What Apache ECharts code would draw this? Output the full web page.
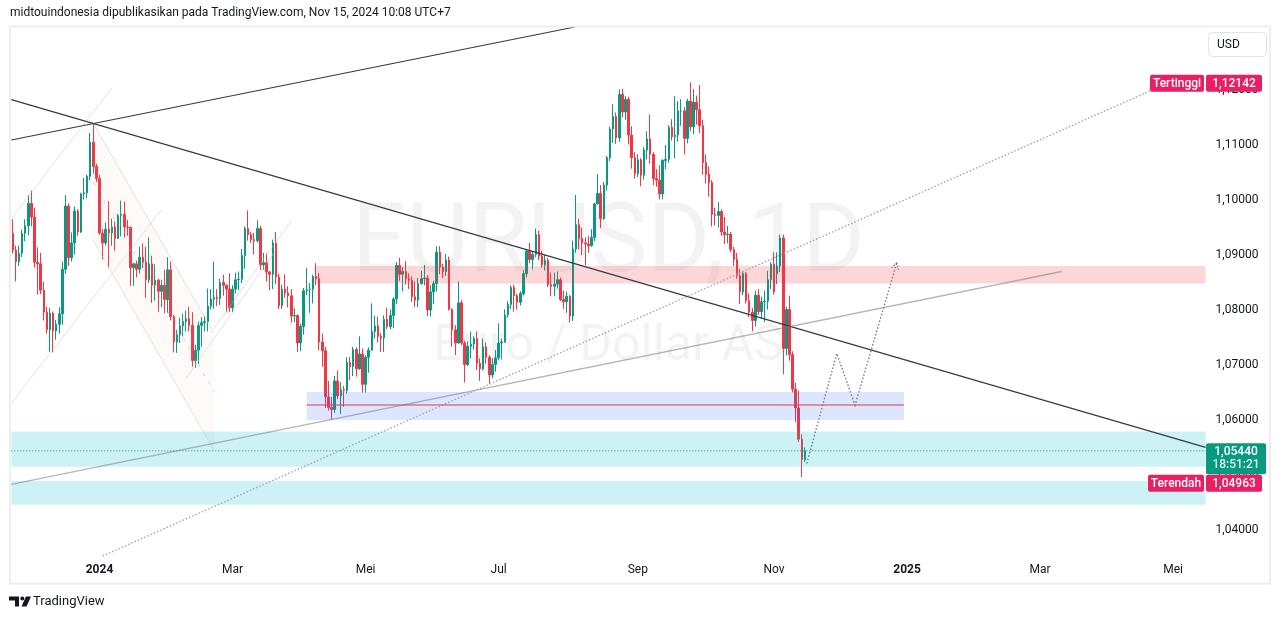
<!DOCTYPE html>
<html><head><meta charset="utf-8">
<script src="https://cdn.jsdelivr.net/npm/echarts@6/dist/echarts.min.js"></script>
<style>html,body{margin:0;padding:0;background:#fff;}#c{width:1281px;height:619px;}</style>
</head><body><div id="c"></div>
<script>
// ---------- categories (trading days) ----------
const firstDate = '2023-11-21';
const skipDates = ['2023-12-25', '2024-01-01'];
const barCount = 386;

// ---------- tick labels ----------
const tickDates  = ['2024-01-02','2024-03-01','2024-05-01','2024-07-01','2024-09-02','2024-11-01','2025-01-01','2025-03-03','2025-05-01'];
const tickLabels = ['2024','Mar','Mei','Jul','Sep','Nov','2025','Mar','Mei'];

// ---------- price range ----------
const yMin = 1.035273, yMax = 1.131455;
const lastPrice = 1.0544, highPrice = 1.12142, lowPrice = 1.04963;
const countdown = '18:51:21';

// ---------- EURUSD daily [open, high, low, close] ----------
const nov2023 = [
[1.0939,1.0965,1.0903,1.0909],[1.0909,1.0917,1.0852,1.0888],[1.0888,1.0917,1.0880,1.0903],[1.0903,1.0946,1.0896,1.0939],
[1.0939,1.0965,1.0925,1.0953],[1.0953,1.1009,1.0936,1.0994],[1.0994,1.1017,1.0952,1.0969],[1.0969,1.0986,1.0877,1.0887]];
const dec2023 = [
[1.0887,1.0914,1.0828,1.0884],[1.0884,1.0904,1.0829,1.0836],[1.0836,1.0851,1.0781,1.0796],[1.0796,1.0806,1.0757,1.0764],
[1.0764,1.0804,1.0724,1.0794],[1.0794,1.0797,1.0723,1.0762],[1.0762,1.0782,1.0746,1.0774],[1.0774,1.0805,1.0757,1.0793],
[1.0793,1.0888,1.0773,1.0874],[1.0874,1.1009,1.0866,1.0989],[1.0989,1.0994,1.0880,1.0895],[1.0895,1.0941,1.0888,1.0922],
[1.0922,1.0988,1.0901,1.0980],[1.0980,1.0983,1.0935,1.0942],[1.0942,1.1013,1.0940,1.1011],[1.1011,1.1040,1.1001,1.1013],
[1.1013,1.1046,1.1003,1.1043],[1.1043,1.1122,1.1036,1.1105],[1.1105,1.1139,1.1048,1.1061],[1.1061,1.1066,1.1033,1.1039]];
const jan2024 = [
[1.1039,1.1046,1.0937,1.0940],[1.0940,1.0947,1.0892,1.0922],[1.0922,1.0959,1.0917,1.0947],[1.0947,1.0998,1.0877,1.0940],
[1.0940,1.0966,1.0917,1.0951],[1.0951,1.0961,1.0908,1.0930],[1.0930,1.0975,1.0929,1.0972],[1.0972,1.0999,1.0934,1.0974],
[1.0974,1.0997,1.0932,1.0951],[1.0951,1.0964,1.0935,1.0950],[1.0950,1.0952,1.0844,1.0877],[1.0877,1.0886,1.0844,1.0884],
[1.0884,1.0890,1.0859,1.0874],[1.0874,1.0915,1.0866,1.0896],[1.0896,1.0921,1.0876,1.0887],[1.0887,1.0915,1.0822,1.0855],
[1.0855,1.0932,1.0849,1.0884],[1.0884,1.0899,1.0813,1.0845],[1.0845,1.0883,1.0817,1.0854],[1.0854,1.0857,1.0797,1.0834],
[1.0834,1.0855,1.0805,1.0845],[1.0845,1.0873,1.0794,1.0819]];
const feb2024 = [
[1.0819,1.0896,1.0795,1.0873],[1.0873,1.0888,1.0781,1.0788],[1.0788,1.0791,1.0723,1.0742],[1.0742,1.0764,1.0722,1.0755],
[1.0755,1.0786,1.0740,1.0771],[1.0771,1.0793,1.0752,1.0779],[1.0779,1.0799,1.0761,1.0784],[1.0784,1.0806,1.0761,1.0772],
[1.0772,1.0796,1.0697,1.0708],[1.0708,1.0737,1.0695,1.0727],[1.0727,1.0779,1.0702,1.0772],[1.0772,1.0787,1.0733,1.0777],
[1.0777,1.0789,1.0761,1.0779],[1.0779,1.0839,1.0761,1.0807],[1.0807,1.0838,1.0801,1.0820],[1.0820,1.0888,1.0802,1.0823],
[1.0823,1.0838,1.0807,1.0821],[1.0821,1.0857,1.0809,1.0850],[1.0850,1.0864,1.0826,1.0845],[1.0845,1.0846,1.0796,1.0838],
[1.0838,1.0867,1.0796,1.0804]];
const mar2024 = [
[1.0804,1.0845,1.0796,1.0838],[1.0838,1.0868,1.0830,1.0855],[1.0855,1.0870,1.0836,1.0856],[1.0856,1.0911,1.0849,1.0899],
[1.0899,1.0952,1.0875,1.0948],[1.0948,1.0981,1.0926,1.0937],[1.0937,1.0942,1.0922,1.0928],[1.0928,1.0940,1.0901,1.0926],
[1.0926,1.0963,1.0923,1.0948],[1.0948,1.0953,1.0873,1.0882],[1.0882,1.0904,1.0873,1.0886],[1.0886,1.0903,1.0852,1.0869],
[1.0869,1.0871,1.0836,1.0865],[1.0865,1.0928,1.0838,1.0922],[1.0922,1.0942,1.0847,1.0860],[1.0860,1.0866,1.0802,1.0808],
[1.0808,1.0846,1.0802,1.0838],[1.0838,1.0865,1.0823,1.0831],[1.0831,1.0843,1.0805,1.0826],[1.0826,1.0838,1.0777,1.0789],
[1.0789,1.0803,1.0778,1.0790]];
const apr2024 = [
[1.0790,1.0792,1.0724,1.0740],[1.0740,1.0775,1.0725,1.0770],[1.0770,1.0840,1.0755,1.0835],[1.0835,1.0876,1.0827,1.0837],
[1.0837,1.0849,1.0795,1.0838],[1.0838,1.0864,1.0812,1.0861],[1.0861,1.0885,1.0845,1.0857],[1.0857,1.0867,1.0727,1.0742],
[1.0742,1.0757,1.0697,1.0726],[1.0726,1.0733,1.0622,1.0642],[1.0642,1.0671,1.0617,1.0623],[1.0623,1.0642,1.0601,1.0619],
[1.0619,1.0680,1.0613,1.0671],[1.0671,1.0690,1.0638,1.0644],[1.0644,1.0669,1.0611,1.0655],[1.0655,1.0662,1.0624,1.0654],
[1.0654,1.0714,1.0648,1.0705],[1.0705,1.0715,1.0672,1.0697],[1.0697,1.0733,1.0680,1.0728],[1.0728,1.0732,1.0679,1.0693],
[1.0693,1.0752,1.0691,1.0720],[1.0720,1.0730,1.0650,1.0665]];
const may2024 = [
[1.0665,1.0718,1.0650,1.0714],[1.0714,1.0732,1.0686,1.0727],[1.0727,1.0812,1.0726,1.0761],[1.0761,1.0790,1.0748,1.0771],
[1.0771,1.0788,1.0741,1.0752],[1.0752,1.0758,1.0724,1.0749],[1.0749,1.0790,1.0724,1.0783],[1.0783,1.0804,1.0765,1.0770],
[1.0770,1.0801,1.0765,1.0790],[1.0790,1.0823,1.0767,1.0820],[1.0820,1.0887,1.0811,1.0881],[1.0881,1.0895,1.0853,1.0865],
[1.0865,1.0878,1.0834,1.0870],[1.0870,1.0889,1.0846,1.0857],[1.0857,1.0867,1.0838,1.0854],[1.0854,1.0861,1.0815,1.0824],
[1.0824,1.0852,1.0805,1.0818],[1.0818,1.0858,1.0805,1.0848],[1.0848,1.0871,1.0846,1.0857],[1.0857,1.0882,1.0845,1.0858],
[1.0858,1.0863,1.0789,1.0800],[1.0800,1.0845,1.0788,1.0833],[1.0833,1.0853,1.0811,1.0848]];
const jun2024 = [
[1.0848,1.0916,1.0834,1.0905],[1.0905,1.0916,1.0865,1.0878],[1.0878,1.0884,1.0858,1.0870],[1.0870,1.0902,1.0862,1.0891],
[1.0891,1.0897,1.0799,1.0801],[1.0801,1.0803,1.0733,1.0764],[1.0764,1.0772,1.0718,1.0740],[1.0740,1.0852,1.0739,1.0813],
[1.0813,1.0818,1.0736,1.0740],[1.0740,1.0744,1.0668,1.0701],[1.0701,1.0743,1.0698,1.0734],[1.0734,1.0761,1.0712,1.0738],
[1.0738,1.0752,1.0728,1.0748],[1.0748,1.0761,1.0691,1.0703],[1.0703,1.0712,1.0671,1.0693],[1.0693,1.0748,1.0690,1.0733],
[1.0733,1.0741,1.0702,1.0714],[1.0714,1.0718,1.0666,1.0682],[1.0682,1.0712,1.0676,1.0701],[1.0701,1.0727,1.0688,1.0713]];
const jul2024 = [
[1.0713,1.0776,1.0709,1.0740],[1.0740,1.0748,1.0710,1.0742],[1.0742,1.0801,1.0740,1.0791],[1.0791,1.0816,1.0786,1.0810],
[1.0810,1.0845,1.0802,1.0841],[1.0841,1.0846,1.0797,1.0826],[1.0826,1.0829,1.0801,1.0814],[1.0814,1.0834,1.0808,1.0830],
[1.0830,1.0872,1.0826,1.0866],[1.0866,1.0909,1.0859,1.0907],[1.0907,1.0922,1.0885,1.0892],[1.0892,1.0906,1.0874,1.0901],
[1.0901,1.0948,1.0896,1.0937],[1.0937,1.0944,1.0891,1.0898],[1.0898,1.0908,1.0877,1.0882],[1.0882,1.0900,1.0872,1.0890],
[1.0890,1.0895,1.0842,1.0846],[1.0846,1.0868,1.0825,1.0843],[1.0843,1.0868,1.0825,1.0847],[1.0847,1.0870,1.0839,1.0855],
[1.0855,1.0859,1.0816,1.0819],[1.0819,1.0835,1.0802,1.0815],[1.0815,1.0833,1.0795,1.0825]];
const aug2024 = [
[1.0825,1.0827,1.0777,1.0789],[1.0789,1.0926,1.0780,1.0911],[1.0911,1.1009,1.0904,1.0955],[1.0955,1.0966,1.0910,1.0930],
[1.0930,1.0950,1.0900,1.0922],[1.0922,1.0932,1.0881,1.0920],[1.0920,1.0935,1.0904,1.0917],[1.0917,1.0947,1.0915,1.0932],
[1.0932,1.0995,1.0925,1.0993],[1.0993,1.1047,1.0992,1.1012],[1.1012,1.1027,1.0949,1.0966],[1.0966,1.1033,1.0964,1.1027],
[1.1027,1.1080,1.1017,1.1077],[1.1077,1.1133,1.1071,1.1129],[1.1129,1.1174,1.1104,1.1152],[1.1152,1.1159,1.1102,1.1113],
[1.1113,1.1201,1.1106,1.1192],[1.1192,1.1202,1.1150,1.1160],[1.1160,1.1189,1.1146,1.1183],[1.1183,1.1188,1.1101,1.1118],
[1.1118,1.1134,1.1057,1.1077],[1.1077,1.1087,1.1039,1.1048]];
const sep2024 = [
[1.1048,1.1083,1.1042,1.1073],[1.1073,1.1076,1.1025,1.1045],[1.1045,1.1096,1.1037,1.1091],[1.1091,1.1125,1.1074,1.1111],
[1.1111,1.1155,1.1066,1.1083],[1.1083,1.1087,1.1027,1.1039],[1.1039,1.1056,1.1024,1.1036],[1.1036,1.1063,1.1001,1.1011],
[1.1011,1.1074,1.1001,1.1072],[1.1072,1.1100,1.1056,1.1074],[1.1074,1.1136,1.1068,1.1132],[1.1132,1.1147,1.1108,1.1115],
[1.1115,1.1189,1.1076,1.1118],[1.1118,1.1180,1.1106,1.1162],[1.1162,1.1183,1.1135,1.1162],[1.1162,1.1169,1.1083,1.1112],
[1.1112,1.1184,1.1103,1.1180],[1.1180,1.1214,1.1125,1.1133],[1.1133,1.1202,1.1120,1.1178],[1.1178,1.1190,1.1137,1.1164],
[1.1164,1.1209,1.1122,1.1135]];
const oct2024 = [
[1.1135,1.1146,1.1046,1.1068],[1.1068,1.1083,1.1030,1.1047],[1.1047,1.1061,1.1006,1.1032],[1.1032,1.1036,1.0952,1.0974],
[1.0974,1.0986,1.0954,1.0972],[1.0972,1.0996,1.0950,1.0979],[1.0979,1.0983,1.0935,1.0942],[1.0942,1.0969,1.0920,1.0937],
[1.0937,1.0953,1.0921,1.0938],[1.0938,1.0942,1.0905,1.0910],[1.0910,1.0915,1.0880,1.0892],[1.0892,1.0904,1.0857,1.0862],
[1.0862,1.0874,1.0811,1.0833],[1.0833,1.0871,1.0827,1.0866],[1.0866,1.0869,1.0812,1.0817],[1.0817,1.0830,1.0787,1.0796],
[1.0796,1.0804,1.0761,1.0781],[1.0781,1.0835,1.0770,1.0827],[1.0827,1.0838,1.0791,1.0797],[1.0797,1.0824,1.0785,1.0815],
[1.0815,1.0835,1.0778,1.0816],[1.0816,1.0871,1.0801,1.0855],[1.0855,1.0887,1.0838,1.0883]];
const nov2024 = [
[1.0883,1.0905,1.0828,1.0833],[1.0866,1.0905,1.0847,1.0880],[1.0880,1.0937,1.0869,1.0931],[1.0931,1.0937,1.0683,1.0730],
[1.0730,1.0806,1.0717,1.0801],[1.0801,1.0826,1.0708,1.0719],[1.0719,1.0725,1.0650,1.0656],[1.0656,1.0668,1.0596,1.0622],
[1.0622,1.0653,1.0560,1.0565],[1.0565,1.0574,1.04963,1.0528],[1.0528,1.0550,1.0524,1.0544]];

// ---------- drawings (anchors as [date, price, barOffset]) ----------
const zones = [
  {from:['2024-04-09'], to:null,           top:1.0880, bottom:1.0848, fill:'rgba(242,54,69,0.2)'},
  {from:['2024-04-04'], to:['2024-12-31'], top:1.0651, bottom:1.0600, fill:'rgba(41,98,255,0.16)'},
  {from:null,           to:null,           top:1.0579, bottom:1.0515, fill:'rgba(0,188,212,0.2)'},
  {from:null,           to:null,           top:1.0489, bottom:1.0446, fill:'rgba(0,188,212,0.2)'}
];
const trendLines = [
  {a:['2023-12-28',1.1139], b:['2024-08-05',1.1315], extL:true, extR:true,  color:'#363a45', width:1.2, dash:null},
  {a:['2023-12-28',1.1139], b:['2025-05-15',1.0551], extL:true, extR:true,  color:'#363a45', width:1.2, dash:null},
  {a:['2024-04-16',1.0601], b:['2025-03-12',1.0870], extL:true, extR:false, color:'rgba(120,123,134,0.55)', width:1.3, dash:null},
  {a:['2024-05-21',1.0600], b:['2025-04-22',1.11995], extL:true, extR:false, color:'#a3a6af', width:1.4, dash:[1.5,2]},
  {a:['2024-04-04',1.06273], b:['2024-12-31',1.06273], extL:false, extR:false, color:'#e53945', width:1, dash:null},
  {a:['2023-11-21',1.0634], b:['2024-01-30',1.0982], extL:true, extR:false, color:'rgba(190,190,195,0.45)', width:1, dash:null},
  {a:['2023-11-21',1.0970], b:['2024-01-08',1.1204], extL:true, extR:false, color:'rgba(190,190,195,0.45)', width:1, dash:null},
  {a:['2024-02-09',1.0676], b:['2024-03-21',1.0908], extL:false, extR:false, color:'rgba(190,190,195,0.45)', width:1, dash:null},
  {a:['2024-02-22',1.0766], b:['2024-03-28',1.0963], extL:false, extR:false, color:'rgba(190,190,195,0.45)', width:1, dash:null}
];
const channel = {a:['2023-12-28',1.1139], b:['2024-02-22',1.0758], offset:-0.02127};
const projection = [['2024-11-15',1.0521,0.6],['2024-11-29',1.0721,0.3],['2024-12-09',1.0627,0.2],['2024-12-26',1.0886,0.7]];

// ---------- build ----------
const categories = [];
{
  const p = firstDate.split('-').map(Number);
  const d = new Date(Date.UTC(p[0], p[1]-1, p[2]));
  while (categories.length < barCount) {
    const s = d.toISOString().slice(0,10), wd = d.getUTCDay();
    if (wd !== 0 && wd !== 6 && skipDates.indexOf(s) < 0) categories.push(s);
    d.setUTCDate(d.getUTCDate()+1);
  }
}
const ohlc = [].concat(nov2023, dec2023, jan2024, feb2024, mar2024, apr2024, may2024, jun2024, jul2024, aug2024, sep2024, oct2024, nov2024);
const UP = '#089981', DOWN = '#f23645';
const FONT = 'Roboto, "Noto Sans", sans-serif';
const fmt = v => v.toFixed(5).replace('.', ',');

const chart = echarts.init(document.getElementById('c'));
chart.setOption({
  animation:false,
  backgroundColor:'#ffffff',
  grid:{left:11.32, right:75.4, top:27, bottom:63},
  xAxis:{type:'category', data:categories, boundaryGap:true,
    axisLine:{show:false}, axisTick:{show:false}, splitLine:{show:false},
    axisLabel:{
      interval:(i, v) => tickDates.indexOf(v) >= 0,
      formatter:v => { const t = tickLabels[tickDates.indexOf(v)]; return /^\d{4}$/.test(t) ? '{y|' + t + '}' : t; },
      color:'#131722', fontSize:12, fontFamily:FONT, margin:8,
      rich:{y:{fontWeight:'bold', color:'#131722', fontSize:12, fontFamily:FONT}}
    }},
  yAxis:{type:'value', position:'right', min:yMin, max:yMax, splitNumber:10,
    axisLine:{show:false}, axisTick:{show:false}, splitLine:{show:false},
    axisLabel:{showMinLabel:false, showMaxLabel:false, formatter:fmt, color:'#131722', fontSize:12, fontFamily:FONT, margin:10}},
  series:[{type:'candlestick', barWidth:2,
    data: ohlc.map(r => [r[0], r[3], r[2], r[1]]),
    itemStyle:{color:UP, color0:DOWN, borderColor:UP, borderColor0:DOWN, borderWidth:1}}]
});

// ---------- overlays through the chart's scales ----------
const x0 = chart.convertToPixel({xAxisIndex:0}, 0);
const step = chart.convertToPixel({xAxisIndex:0}, 1) - x0;
const X = (date, off) => x0 + (categories.indexOf(date) + (off || 0)) * step;
const Y = p => chart.convertToPixel({yAxisIndex:0}, p);
const R = {l:x0 - step/2, r:x0 + (categories.length - 0.5)*step, t:Y(yMax), b:Y(yMin)};
const P = a => [X(a[0], a[2]), Y(a[1])];

function clip(x1, y1, x2, y2) {
  let t0 = 0, t1 = 1; const dx = x2-x1, dy = y2-y1;
  const p = [-dx, dx, -dy, dy], q = [x1-R.l, R.r-x1, y1-R.t, R.b-y1];
  for (let i = 0; i < 4; i++) {
    if (p[i] === 0) { if (q[i] < 0) return null; }
    else { const t = q[i]/p[i];
      if (p[i] < 0) { if (t > t1) return null; if (t > t0) t0 = t; }
      else { if (t < t0) return null; if (t < t1) t1 = t; } }
  }
  return [x1+t0*dx, y1+t0*dy, x1+t1*dx, y1+t1*dy];
}
function seg(a, b, extL, extR) {
  let [x1,y1] = a, [x2,y2] = b; const dx = x2-x1, dy = y2-y1;
  if (extL) { x1 -= dx*50; y1 -= dy*50; }
  if (extR) { x2 += dx*50; y2 += dy*50; }
  return clip(x1,y1,x2,y2);
}
const els = [];
const lineEl = (s, color, width, dash, z) => s && els.push({type:'line', z:z||6, silent:true,
  shape:{x1:s[0], y1:s[1], x2:s[2], y2:s[3]}, style:{stroke:color, lineWidth:width, lineDash:dash||null}});
const cx = (R.l + R.r)/2;

// watermark
els.push({type:'text', z:1, silent:true, style:{text:'EURUSD, 1D', x:cx, y:247, align:'center', verticalAlign:'middle', font:'400 96px Roboto', fill:'rgba(19,23,34,0.05)'}});
els.push({type:'text', z:1, silent:true, style:{text:'Euro / Dollar AS', x:cx, y:347, align:'center', verticalAlign:'middle', font:'400 50px Roboto', fill:'rgba(19,23,34,0.05)'}});

// channel
{
  const a = P(channel.a), b = P(channel.b);
  const a2 = P([channel.a[0], channel.a[1]+channel.offset]), b2 = P([channel.b[0], channel.b[1]+channel.offset]);
  const am = P([channel.a[0], channel.a[1]+channel.offset/2]), bm = P([channel.b[0], channel.b[1]+channel.offset/2]);
  els.push({type:'polygon', z:3, silent:true, shape:{points:[a,b,b2,a2]}, style:{fill:'rgba(220,170,130,0.06)'}});
  lineEl([a[0],a[1],b[0],b[1]], 'rgba(190,190,195,0.45)', 1);
  lineEl([a2[0],a2[1],b2[0],b2[1]], 'rgba(190,190,195,0.45)', 1);
  lineEl([am[0],am[1],bm[0],bm[1]], 'rgba(41,98,255,0.25)', 1, [4,6]);
}
// zones
zones.forEach(zn => {
  const xl = zn.from ? X(zn.from[0]) : R.l, xr = zn.to ? X(zn.to[0]) : R.r;
  const yt = Y(zn.top), yb = Y(zn.bottom);
  els.push({type:'rect', z:5, silent:true, shape:{x:xl, y:yt, width:xr-xl, height:yb-yt}, style:{fill:zn.fill}});
});
// trend lines
trendLines.forEach(t => lineEl(seg(P(t.a), P(t.b), t.extL, t.extR), t.color, t.width, t.dash));
// current price line
lineEl([R.l, Y(lastPrice), R.r, Y(lastPrice)], UP, 1, [1,2]);
// projection path + arrow
{
  const pts = projection.map(P);
  els.push({type:'polyline', z:6, silent:true, shape:{points:pts}, style:{stroke:'#787b86', lineWidth:1.4, lineDash:[1.5,2], fill:null}});
  const e = pts[pts.length-1], s = pts[pts.length-2];
  const ang = Math.atan2(e[1]-s[1], e[0]-s[0]), L = 7;
  [0.5, -0.5].forEach(d => lineEl([e[0], e[1], e[0]-L*Math.cos(ang+d), e[1]-L*Math.sin(ang+d)], '#787b86', 1.4, [1.5,1.5]));
}

// frame
els.push({type:'rect', z:9, silent:true, shape:{x:10, y:26.5, width:1260, height:557}, style:{fill:null, stroke:'#eceef2', lineWidth:2}});

// price scale tags
function tag(x, w, yc, h, color, text) {
  els.push({type:'rect', z:10, silent:true, shape:{x:x, y:yc-h/2, width:w, height:h, r:2}, style:{fill:color}});
  els.push({type:'text', z:11, silent:true, style:{text:text, x:x+w/2, y:yc+0.5, align:'center', verticalAlign:'middle', font:'500 12px Roboto', fill:'#ffffff'}});
}
const PINK = '#e91e63';
const yH = Y(highPrice);
tag(1150, 54, yH+1, 17, PINK, 'Tertinggi');
tag(1206, 56, yH+1, 17, PINK, fmt(highPrice));
const yC = Y(lastPrice);
els.push({type:'rect', z:10, silent:true, shape:{x:1206, y:yC-7.5, width:60, height:31, r:2}, style:{fill:UP}});
els.push({type:'text', z:11, silent:true, style:{text:fmt(lastPrice), x:1236, y:yC+1, align:'center', verticalAlign:'middle', font:'500 12px Roboto', fill:'#ffffff'}});
els.push({type:'text', z:11, silent:true, style:{text:countdown, x:1236, y:yC+14.5, align:'center', verticalAlign:'middle', font:'500 12px Roboto', fill:'rgba(255,255,255,0.85)'}});
const yL = Math.max(Y(lowPrice), yC + 23.5 + 9);
tag(1148, 56, yL, 17, PINK, 'Terendah');
tag(1206, 56, yL, 17, PINK, fmt(lowPrice));

// USD button (opaque area at top of the price scale)
els.push({type:'rect', z:9.5, silent:true, shape:{x:1206, y:27.5, width:63, height:31}, style:{fill:'#ffffff'}});
els.push({type:'rect', z:10, silent:true, shape:{x:1208.5, y:32.5, width:58, height:24, r:4}, style:{fill:'#ffffff', stroke:'#e0e3eb', lineWidth:1}});
els.push({type:'text', z:11, silent:true, style:{text:'USD', x:1217, y:45, align:'left', verticalAlign:'middle', font:'12px Roboto', fill:'#131722'}});

// header + footer
els.push({type:'text', z:11, silent:true, style:{text:'midtouindonesia dipublikasikan pada TradingView.com, Nov 15, 2024 10:08 UTC+7', x:10, y:13, align:'left', verticalAlign:'middle', font:'12px Roboto', fill:'#131722'}});
els.push({type:'polygon', z:11, silent:true, shape:{points:[[9,596.5],[19,596.5],[19,606.5],[15,606.5],[15,600.5],[9,600.5]]}, style:{fill:'#131722'}});
els.push({type:'circle', z:11, silent:true, shape:{cx:22.3, cy:598.6, r:2}, style:{fill:'#131722'}});
els.push({type:'polygon', z:11, silent:true, shape:{points:[[26,596.5],[31,596.5],[26.5,606.5],[21.5,606.5]]}, style:{fill:'#131722'}});
els.push({type:'text', z:11, silent:true, style:{text:'TradingView', x:33, y:601.5, align:'left', verticalAlign:'middle', font:'13px Roboto', fill:'#131722'}});

chart.setOption({graphic:{elements:els}});
</script></body></html>
